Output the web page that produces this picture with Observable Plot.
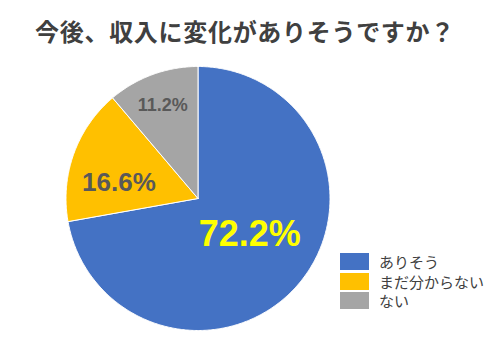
<!DOCTYPE html>
<html><head><meta charset="utf-8">
<script src="https://cdn.jsdelivr.net/npm/d3@7"></script>
<script src="https://cdn.jsdelivr.net/npm/@observablehq/plot@0.6"></script>
<style>
body{margin:0;background:#fff;}
#wrap{position:relative;width:500px;height:351px;overflow:hidden;font-family:"Noto Sans CJK JP","Noto Sans",sans-serif;}
#title{position:absolute;left:0;width:490px;top:17px;text-align:center;font-size:24px;font-weight:bold;color:#404040;letter-spacing:0.7px;line-height:1.2;}
#legend{position:absolute;left:340px;top:252px;font-size:15px;color:#404040;}
.row{display:flex;align-items:center;height:19.5px;}
.sw{width:29px;height:17px;margin-right:10px;}
svg{position:absolute;left:0;top:0;}
</style></head>
<body><div id="wrap"><div id="title"></div><div id="legend"></div></div>
<script>
const title = "今後、収入に変化がありそうですか？";
const categories = ["ありそう", "まだ分からない", "ない"];
const values = [72.2, 16.6, 11.2];
const labels = ["72.2%", "16.6%", "11.2%"];

// styling
const colors = ["#4472C4", "#FFC000", "#A5A5A5"];
const labelColors = ["#FFFF00", "#595959", "#595959"];
const labelSizes = [36, 26, 18];
const labelNudge = [[-9, -15], [-4.5, 11], [-8, -19]];

document.getElementById("title").textContent = title;
const legend = document.getElementById("legend");
categories.forEach((c, i) => {
  const r = document.createElement("div"); r.className = "row";
  const s = document.createElement("div"); s.className = "sw"; s.style.background = colors[i];
  const t = document.createElement("span"); t.textContent = c;
  r.append(s, t); legend.append(r);
});

const data = categories.map((c, i) => ({category: c, value: values[i], label: labels[i]}));
const arcs = d3.pie().sort(null).value(d => d.value)(data);

const marks = [];
arcs.forEach((a, i) => {
  const pts = [{x: 0, y: 0}];
  const n = Math.max(2, Math.ceil((a.endAngle - a.startAngle) / 0.01));
  for (let k = 0; k <= n; k++) {
    const t = a.startAngle + (a.endAngle - a.startAngle) * k / n;
    pts.push({x: Math.sin(t), y: Math.cos(t)});
  }
  pts.push({x: 0, y: 0});
  marks.push(Plot.line(pts, {x: "x", y: "y", fill: colors[i], stroke: "#ffffff", strokeWidth: 1, curve: "linear"}));
});
arcs.forEach((a, i) => {
  const m = (a.startAngle + a.endAngle) / 2;
  marks.push(Plot.text([{x: 0.6 * Math.sin(m), y: 0.6 * Math.cos(m), label: a.data.label}], {
    x: "x", y: "y", text: "label", fill: labelColors[i], fontSize: labelSizes[i],
    fontWeight: "bold", fontFamily: "'Liberation Sans', Arial, sans-serif",
    dx: labelNudge[i][0], dy: labelNudge[i][1]
  }));
});

const chart = Plot.plot({
  width: 500, height: 351,
  margin: 0,
  x: {domain: [-1, 1], range: [65.5, 329.5], axis: null},
  y: {domain: [-1, 1], range: [330, 66], axis: null},
  marks
});
document.getElementById("wrap").prepend(chart);
</script>
</body></html>
